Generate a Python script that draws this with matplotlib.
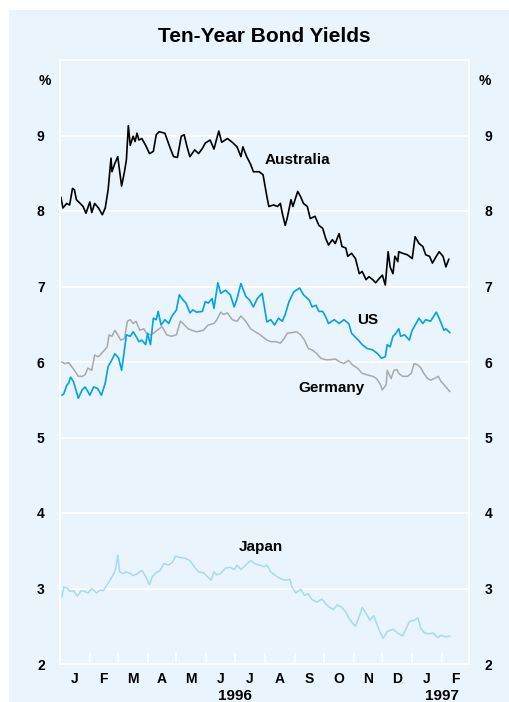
#!/usr/bin/env python3

import matplotlib.pyplot as plt
import matplotlib.patches as patches
import numpy as np

plt.rcParams['font.family'] = ['Liberation Sans', 'DejaVu Sans']
plt.rcParams['font.weight'] = 'bold'

bg = '#e9f4fd'

# Days since 1 Jan 1996 and yields (%)
aus_d = np.array([1, 3, 7, 10, 13, 15, 17, 21, 24, 27, 31, 33, 36, 40, 44, 47, 50, 53, 54, 57, 60, 64, 67, 69, 71, 73, 76, 78, 80, 82,
                  85, 89, 93, 97, 100, 103, 109, 114, 118, 122, 126, 129, 132, 135, 140, 144, 148, 151, 156, 160, 165, 168, 174, 179, 184, 188, 190, 194, 198, 201,
                  207, 211, 215, 217, 222, 226, 229, 231, 234, 236, 240, 242, 247, 250, 253, 257, 260, 265, 269, 273, 276, 279, 283, 286, 290, 293, 297, 299, 303, 307,
                  311, 314, 318, 321, 325, 328, 332, 335, 338, 341, 343, 346, 348, 351, 352, 356, 361, 366, 369, 373, 377, 380, 384, 387, 391, 394, 398, 401, 404])
aus = np.array([8.18, 8.04, 8.10, 8.08, 8.30, 8.28, 8.15, 8.10, 8.06, 7.97, 8.12, 7.98, 8.10, 8.04, 7.95, 8.04, 8.28, 8.70, 8.52, 8.63, 8.72, 8.33, 8.52, 8.68, 9.13, 8.87, 8.99, 8.92, 9.03, 8.94,
                8.96, 8.87, 8.76, 8.79, 9.01, 9.05, 9.03, 8.85, 8.72, 8.71, 8.99, 9.01, 8.85, 8.72, 8.81, 8.76, 8.83, 8.90, 8.94, 8.82, 9.06, 8.91, 8.96, 8.91, 8.85, 8.72, 8.85, 8.72, 8.62, 8.52,
                8.52, 8.48, 8.19, 8.06, 8.08, 8.06, 8.10, 7.97, 7.81, 7.90, 8.15, 8.06, 8.26, 8.19, 8.10, 8.06, 7.90, 7.93, 7.81, 7.77, 7.64, 7.55, 7.62, 7.57, 7.70, 7.53, 7.51, 7.40, 7.44, 7.37,
                7.17, 7.20, 7.09, 7.13, 7.09, 7.05, 7.11, 7.15, 7.02, 7.46, 7.26, 7.17, 7.40, 7.33, 7.46, 7.44, 7.42, 7.37, 7.66, 7.57, 7.53, 7.42, 7.40, 7.31, 7.40, 7.46, 7.40, 7.26, 7.36])

us_d = np.array([2, 4, 7, 9, 11, 14, 17, 19, 23, 26, 28, 31, 35, 39, 43, 47, 50, 54, 57, 61, 64, 66, 69, 73, 76, 79, 82, 85, 89, 91,
                 94, 97, 100, 102, 105, 109, 113, 116, 121, 124, 128, 131, 135, 138, 142, 148, 151, 154, 158, 160, 164, 167, 172, 177, 181, 184, 188, 193, 197, 201,
                 205, 210, 215, 219, 223, 227, 231, 234, 238, 243, 249, 253, 259, 262, 266, 269, 273, 276, 279, 285, 290, 295, 300, 303, 306, 310, 314, 319, 325, 330,
                 334, 338, 340, 343, 346, 349, 352, 354, 358, 363, 366, 370, 373, 377, 380, 385, 391, 394, 399, 401, 405])
us = np.array([5.56, 5.58, 5.69, 5.72, 5.80, 5.74, 5.61, 5.52, 5.63, 5.67, 5.63, 5.56, 5.67, 5.65, 5.56, 5.72, 5.94, 6.03, 6.11, 6.05, 5.89, 6.07, 6.36, 6.34, 6.40, 6.34, 6.27, 6.29, 6.23, 6.38,
               6.23, 6.58, 6.56, 6.67, 6.49, 6.56, 6.51, 6.60, 6.69, 6.89, 6.82, 6.78, 6.65, 6.69, 6.66, 6.67, 6.80, 6.78, 6.84, 6.71, 7.05, 6.91, 6.95, 6.89, 6.73, 6.84, 7.04, 6.87, 6.82, 6.73,
               6.84, 6.91, 6.53, 6.56, 6.49, 6.58, 6.54, 6.63, 6.80, 6.93, 6.98, 6.89, 6.82, 6.73, 6.75, 6.67, 6.67, 6.60, 6.51, 6.56, 6.51, 6.56, 6.51, 6.38, 6.34, 6.29, 6.23, 6.18, 6.16, 6.11,
               6.05, 6.07, 6.23, 6.20, 6.34, 6.38, 6.44, 6.34, 6.36, 6.29, 6.42, 6.51, 6.58, 6.51, 6.56, 6.54, 6.66, 6.58, 6.42, 6.44, 6.39])

ger_d = np.array([2, 5, 9, 12, 16, 19, 23, 26, 29, 33, 36, 40, 45, 49, 51, 54, 57, 60, 63, 67, 70, 73, 76, 79, 83, 87, 90, 94, 97, 101,
                  106, 111, 116, 121, 125, 128, 133, 137, 142, 149, 154, 160, 163, 167, 170, 174, 179, 184, 188, 193, 198, 203, 208, 215, 219, 224, 229, 233, 236, 241,
                  246, 250, 254, 258, 262, 267, 271, 276, 281, 286, 291, 295, 300, 304, 309, 314, 319, 325, 329, 333, 335, 339, 340, 344, 347, 350, 352, 356, 361, 365,
                  368, 372, 375, 378, 382, 385, 389, 393, 396, 399, 405])
ger = np.array([6.00, 5.98, 5.99, 5.94, 5.87, 5.81, 5.81, 5.83, 5.92, 5.89, 6.09, 6.07, 6.14, 6.20, 6.36, 6.34, 6.42, 6.36, 6.29, 6.31, 6.54, 6.56, 6.51, 6.54, 6.42, 6.44, 6.38, 6.36, 6.38, 6.42,
                6.47, 6.36, 6.34, 6.36, 6.54, 6.51, 6.44, 6.42, 6.40, 6.42, 6.49, 6.51, 6.56, 6.66, 6.63, 6.65, 6.56, 6.54, 6.61, 6.54, 6.44, 6.40, 6.36, 6.29, 6.27, 6.27, 6.25, 6.31, 6.38, 6.39,
                6.40, 6.36, 6.29, 6.18, 6.16, 6.11, 6.05, 6.03, 6.03, 6.04, 6.00, 5.98, 6.02, 5.96, 5.92, 5.85, 5.83, 5.81, 5.78, 5.70, 5.63, 5.70, 5.89, 5.78, 5.89, 5.90, 5.85, 5.81, 5.81, 5.85,
                5.98, 5.96, 5.92, 5.85, 5.78, 5.76, 5.78, 5.81, 5.74, 5.70, 5.61])

jap_d = np.array([2, 4, 8, 10, 14, 18, 22, 26, 29, 33, 38, 42, 45, 49, 52, 56, 58, 60, 62, 66, 69, 73, 76, 81, 85, 89, 93, 96, 100, 104,
                  108, 113, 117, 120, 125, 130, 135, 140, 144, 149, 153, 157, 160, 163, 167, 172, 177, 181, 184, 188, 193, 198, 202, 207, 212, 215, 219, 223, 229, 234,
                  239, 241, 245, 250, 254, 258, 262, 267, 272, 276, 279, 284, 288, 292, 297, 300, 304, 307, 311, 314, 318, 322, 326, 330, 333, 336, 340, 346, 351, 356,
                  359, 363, 368, 372, 375, 379, 384, 388, 392, 396, 401, 405])
jap = np.array([2.89, 3.02, 3.00, 2.96, 2.97, 2.90, 2.97, 2.96, 2.94, 3.00, 2.94, 2.98, 2.97, 3.05, 3.11, 3.20, 3.27, 3.44, 3.22, 3.20, 3.22, 3.20, 3.17, 3.20, 3.24, 3.16, 3.05, 3.16, 3.21, 3.24,
                3.33, 3.31, 3.35, 3.43, 3.41, 3.40, 3.37, 3.28, 3.22, 3.21, 3.16, 3.11, 3.22, 3.18, 3.20, 3.27, 3.28, 3.25, 3.31, 3.25, 3.31, 3.37, 3.33, 3.31, 3.29, 3.31, 3.22, 3.18, 3.13, 3.11,
                3.12, 3.02, 2.94, 2.99, 2.91, 2.93, 2.85, 2.82, 2.86, 2.80, 2.76, 2.72, 2.78, 2.76, 2.69, 2.61, 2.54, 2.50, 2.63, 2.75, 2.67, 2.58, 2.64, 2.50, 2.41, 2.34, 2.43, 2.46, 2.41, 2.37,
                2.45, 2.56, 2.58, 2.61, 2.47, 2.41, 2.40, 2.41, 2.35, 2.38, 2.36, 2.37])

# Month boundaries Jan 1996 - Mar 1997
month_start = np.array([0, 31, 60, 91, 121, 152, 182, 213, 244, 274, 305, 335, 366, 397, 425])
month_mid = (month_start[:-1] + month_start[1:]) / 2
month_lab = ['J', 'F', 'M', 'A', 'M', 'J', 'J', 'A', 'S', 'O', 'N', 'D', 'J', 'F']

fig = plt.figure(figsize=(5.09, 7.02), dpi=100)
fig.add_artist(patches.Rectangle((9 / 509, 0), 1, 1 - 10 / 702, transform=fig.transFigure,
                                 facecolor=bg, edgecolor='none', zorder=-1))
ax = fig.add_axes([60 / 509, 38 / 702, 409 / 509, 604 / 702])
ax.set_facecolor(bg)

# Create the plot
plt.plot(jap_d, jap, color='#a6d9f7', lw=1.1)
plt.plot(ger_d, ger, color='#a9a9a9', lw=1.1)
plt.plot(us_d, us, color='#00a3e4', lw=1.2)
plt.plot(aus_d, aus, color='black', lw=1.2)

plt.text(213, 8.67, 'Australia', fontsize=11, va='center')
plt.text(320, 6.56, 'US', fontsize=11, ha='center', va='center')
plt.text(282, 5.65, 'Germany', fontsize=11, ha='center', va='center')
plt.text(209, 3.55, 'Japan', fontsize=11, ha='center', va='center')

plt.xlim(0, 425)
plt.ylim(2, 10)
plt.title('Ten-Year Bond Yields', fontsize=15, fontweight='bold', pad=13)

plt.grid(axis='y', color='white', lw=1.5)
ax.set_axisbelow(True)
for s in ax.spines.values():
    s.set_color('white')
    s.set_linewidth(1.5)

plt.yticks(range(2, 10))
ax.tick_params(axis='y', length=0, pad=11, labelsize=10, labelleft=True, labelright=True)
ax.set_xticks(month_start[1:-1])
ax.set_xticks(month_mid, minor=True)
ax.set_xticklabels([])
ax.set_xticklabels(month_lab, minor=True)
ax.tick_params(axis='x', which='major', direction='in', length=8, width=1.5, color='white')
ax.tick_params(axis='x', which='minor', length=0, pad=6, labelsize=10)

plt.text(-16, 9.72, '%', fontsize=10, ha='center', va='center')
plt.text(441, 9.72, '%', fontsize=10, ha='center', va='center')
plt.text(182, 1.58, '1996', fontsize=11, ha='center', va='center')
plt.text(397, 1.58, '1997', fontsize=11, ha='center', va='center')

plt.savefig('out.png', dpi=100)
